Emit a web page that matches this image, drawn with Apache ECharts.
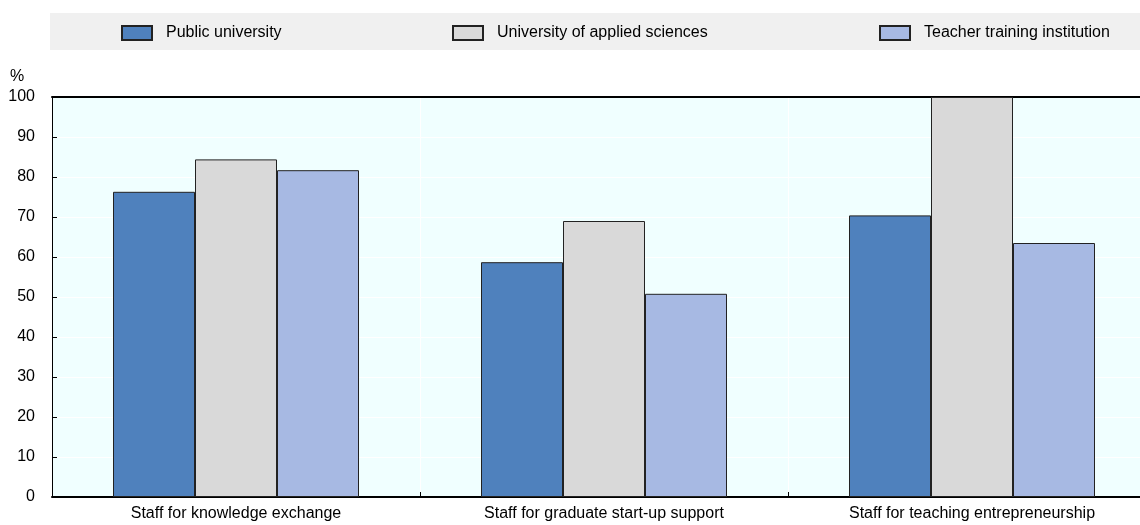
<!DOCTYPE html>
<html>
<head>
<meta charset="utf-8">
<script src="https://cdn.jsdelivr.net/npm/echarts@6/dist/echarts.min.js"></script>
<style>
html,body{margin:0;padding:0;background:#fff;overflow:hidden;}
#wrap{width:1140px;height:525px;overflow:hidden;}
#c{width:1156px;height:525px;}
</style>
</head>
<body>
<div id="wrap"><div id="c"></div></div>
<script>
var categories = ['Staff for knowledge exchange', 'Staff for graduate start-up support', 'Staff for teaching entrepreneurship'];
var seriesNames = ['Public university', 'University of applied sciences', 'Teacher training institution'];
var publicUniversity = [76.3, 58.7, 70.4];
var appliedSciences = [84.4, 69.0, 100];
var teacherTraining = [81.7, 50.8, 63.5];
var yTicks = [0, 10, 20, 30, 40, 50, 60, 70, 80, 90, 100];

var FONT = '"Liberation Sans Narrow", "Arial Narrow", "Liberation Sans", Arial, sans-serif';
var colors = ['#4F81BD', '#D9D9D9', '#A7B9E3'];
var values = [publicUniversity, appliedSciences, teacherTraining];

var chart = echarts.init(document.getElementById('c'), null, {renderer: 'canvas'});

var series = seriesNames.map(function (n, i) {
  return {
    name: n,
    type: 'bar',
    data: values[i],
    barWidth: 82,
    barGap: '0%',
    itemStyle: {color: colors[i], borderColor: '#222', borderWidth: 1},
    emphasis: {disabled: true}
  };
});

var legendLefts = [121, 452, 879];
var legends = seriesNames.map(function (n, i) {
  return {
    data: [n],
    left: legendLefts[i],
    top: 25,
    padding: 0,
    icon: 'rect',
    itemWidth: 30,
    itemHeight: 14,
    itemGap: 14,
    textStyle: {fontFamily: FONT, fontSize: 16, color: '#000', padding: [0, 0, 0, 9]},
    selectedMode: false
  };
});

chart.setOption({
  animation: false,
  textStyle: {fontFamily: FONT},
  graphic: [
    {type: 'rect', z: -10, shape: {x: 50, y: 13, width: 1106, height: 37}, style: {fill: '#F0F0F0'}},
    {type: 'text', left: 10, top: 69, style: {text: '%', font: '16px ' + FONT, fill: '#000'}}
  ],
  legend: legends,
  grid: {left: 52, top: 97, right: 0, bottom: 28, show: true, backgroundColor: '#F0FFFF', borderWidth: 0},
  xAxis: [{
    type: 'category',
    data: categories,
    axisLine: {lineStyle: {color: '#000', width: 2}},
    axisTick: {show: true, inside: true, length: 5, lineStyle: {color: '#000'}},
    axisLabel: {fontFamily: FONT, fontSize: 16, color: '#000', margin: 9},
    splitLine: {show: true, lineStyle: {color: '#FFFFFF', width: 1}}
  }, {
    type: 'category',
    position: 'top',
    data: categories,
    axisLine: {show: true, lineStyle: {color: '#000', width: 2}},
    axisTick: {show: false},
    axisLabel: {show: false},
    splitLine: {show: false}
  }],
  yAxis: {
    type: 'value',
    min: yTicks[0],
    max: yTicks[yTicks.length - 1],
    interval: 10,
    axisLine: {show: true, lineStyle: {color: '#000', width: 1}},
    axisTick: {show: true, inside: true, length: 5, lineStyle: {color: '#000'}},
    axisLabel: {fontFamily: FONT, fontSize: 16, color: '#000', margin: 17},
    splitLine: {show: true, lineStyle: {color: '#FFFFFF', width: 1}}
  },
  series: series
});
</script>
</body>
</html>
